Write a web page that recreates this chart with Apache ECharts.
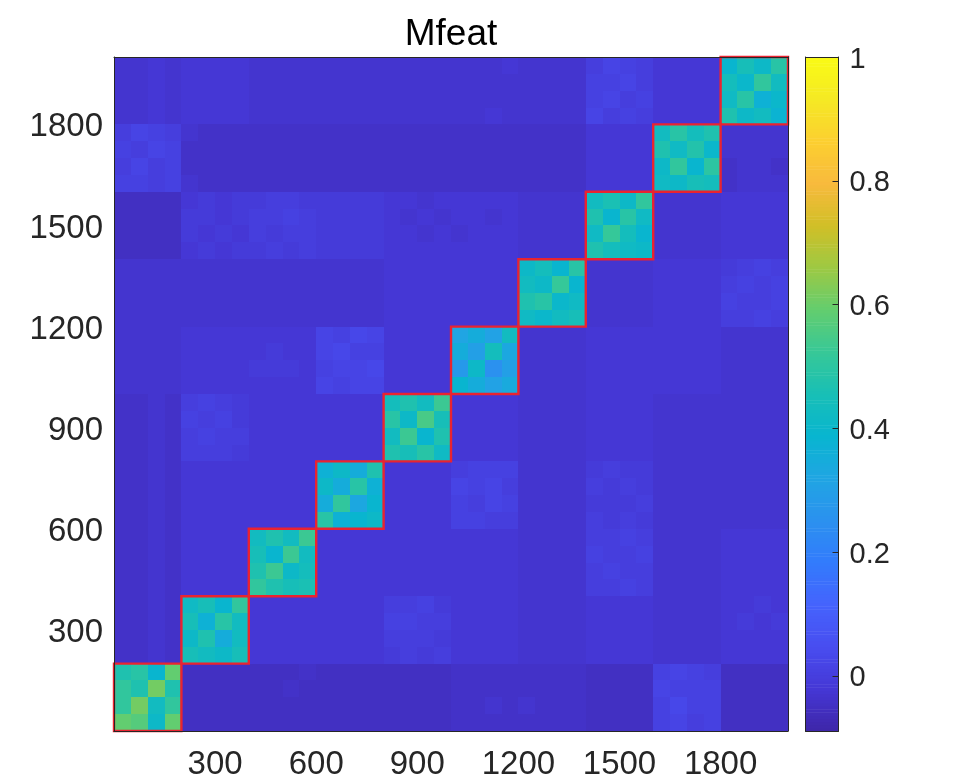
<!DOCTYPE html>
<html>
<head>
<meta charset="utf-8">
<script src="https://cdn.jsdelivr.net/npm/echarts@6/dist/echarts.min.js"></script>
<style>
  html, body { margin: 0; padding: 0; background: #fff; }
  #chart { width: 955px; height: 784px; }
</style>
</head>
<body>
<div id="chart"></div>
<script>
// matrix, in hundredths, one row per 50 samples, top row first
var row1950 = [-3,-3,-2,-3,-2,-2,-2,-2,-3,-3,-3,-3,-3,-3,-3,-3,-3,-3,-3,-3,-3,-3,-3,-2,-3,-3,-3,-3,0,2,1,0,-2,-2,-2,-2,39,45,41,49];
var row1900 = [-3,-3,-2,-3,-2,-2,-2,-2,-3,-3,-3,-3,-3,-3,-3,-3,-3,-3,-3,-3,-3,-3,-3,-3,-3,-3,-3,-3,1,1,2,0,-2,-2,-2,-2,44,40,51,43];
var row1850 = [-3,-3,-2,-3,-2,-2,-2,-2,-3,-3,-3,-3,-3,-3,-3,-3,-3,-3,-3,-3,-3,-3,-3,-3,-3,-3,-3,-3,1,2,0,1,-2,-2,-2,-2,42,49,37,40];
var row1800 = [-3,-3,-2,-3,-2,-2,-2,-2,-3,-3,-3,-3,-3,-3,-3,-3,-3,-3,-3,-3,-3,-3,-2,-3,-3,-3,-3,-3,2,0,1,0,-2,-2,-2,-2,47,41,43,38];
var row1750 = [0,2,1,0,-3,-4,-4,-4,-4,-4,-4,-4,-4,-4,-4,-4,-4,-4,-4,-4,-4,-4,-4,-4,-4,-4,-4,-4,-2,-2,-2,-2,43,49,44,47,-3,-3,-3,-3];
var row1700 = [1,0,2,1,-4,-4,-4,-4,-4,-4,-4,-4,-4,-4,-4,-4,-4,-4,-4,-4,-4,-4,-4,-4,-4,-4,-4,-4,-2,-2,-2,-2,47,42,48,40,-3,-3,-3,-3];
var row1650 = [0,2,0,1,-4,-4,-4,-4,-4,-4,-4,-4,-4,-4,-4,-4,-4,-4,-4,-4,-4,-4,-4,-4,-4,-4,-4,-4,-2,-2,-2,-2,41,51,39,50,-4,-3,-3,-4];
var row1600 = [1,1,0,1,-3,-4,-4,-4,-4,-4,-4,-4,-4,-4,-4,-4,-4,-4,-4,-4,-4,-4,-4,-4,-4,-4,-4,-4,-2,-2,-2,-2,42,41,45,44,-4,-3,-3,-3];
var row1550 = [-5,-5,-5,-5,-2,-1,-2,-1,-1,0,0,-1,-1,-1,-1,-1,-2,-2,-3,-2,-2,-2,-2,-2,-3,-3,-3,-3,43,46,41,51,-3,-3,-3,-3,-2,-2,-2,-2];
var row1500 = [-5,-5,-5,-5,-1,-1,-2,-1,0,0,1,0,-1,-1,-1,-1,-2,-3,-2,-3,-2,-2,-3,-2,-3,-3,-3,-3,47,39,49,42,-3,-3,-3,-3,-2,-2,-2,-2];
var row1450 = [-5,-5,-5,-5,-1,-2,-1,-2,0,-1,0,0,-1,-1,-1,-1,-2,-2,-3,-2,-3,-2,-2,-2,-3,-3,-3,-3,42,52,44,39,-3,-3,-3,-3,-2,-2,-2,-2];
var row1400 = [-5,-5,-5,-5,-2,-1,-2,-1,-1,0,-1,0,-1,-1,-1,-1,-2,-2,-2,-2,-2,-2,-2,-2,-3,-3,-3,-3,47,44,42,41,-3,-3,-3,-3,-2,-2,-2,-2];
var row1350 = [-3,-3,-3,-3,-3,-3,-3,-3,-3,-3,-3,-3,-3,-3,-3,-3,-2,-2,-2,-2,-2,-2,-2,-2,41,44,39,49,-3,-3,-3,-3,-2,-2,-2,-2,-1,0,1,0];
var row1300 = [-3,-3,-3,-3,-3,-3,-3,-3,-3,-3,-3,-3,-3,-3,-3,-3,-2,-2,-2,-2,-2,-2,-2,-2,43,41,52,39,-3,-3,-3,-3,-2,-2,-2,-2,0,1,0,1];
var row1250 = [-3,-3,-3,-3,-3,-3,-3,-3,-3,-3,-3,-3,-3,-3,-3,-3,-2,-2,-2,-2,-2,-2,-2,-2,47,49,40,42,-3,-3,-3,-3,-2,-2,-2,-2,1,0,0,1];
var row1200 = [-3,-3,-3,-3,-3,-3,-3,-3,-3,-3,-3,-3,-3,-3,-3,-3,-2,-2,-2,-2,-2,-2,-2,-2,42,40,43,45,-3,-3,-3,-3,-2,-2,-2,-2,0,0,1,0];
var row1150 = [-3,-3,-3,-3,-2,-2,-2,-2,-2,-2,-2,-2,2,1,3,2,-2,-2,-2,-2,32,35,31,43,-3,-3,-3,-3,-2,-2,-2,-2,-2,-2,-2,-2,-3,-3,-3,-3];
var row1100 = [-3,-3,-3,-3,-2,-2,-2,-2,-2,-1,-2,-2,2,3,1,1,-2,-2,-2,-2,35,30,44,33,-3,-3,-3,-3,-2,-2,-2,-2,-2,-2,-2,-2,-3,-3,-3,-3];
var row1050 = [-3,-3,-3,-3,-2,-2,-2,-2,-1,-1,-1,-2,1,2,2,3,-2,-2,-2,-2,28,41,25,30,-3,-3,-3,-3,-2,-2,-2,-2,-2,-2,-2,-2,-3,-3,-3,-3];
var row1000 = [-3,-3,-3,-3,-2,-2,-2,-2,-2,-2,-2,-2,2,1,2,2,-2,-2,-2,-2,39,35,31,34,-3,-3,-3,-3,-2,-2,-2,-2,-2,-2,-2,-2,-3,-3,-3,-3];
var row950 = [-4,-4,-3,-4,0,1,0,-1,-2,-2,-2,-2,-2,-2,-2,-2,44,47,43,53,-2,-2,-2,-2,-3,-3,-3,-3,-2,-2,-2,-2,-3,-3,-3,-3,-3,-3,-3,-3];
var row900 = [-4,-4,-3,-4,1,0,1,-1,-2,-2,-2,-2,-2,-2,-2,-2,49,41,55,45,-2,-2,-2,-2,-3,-3,-3,-3,-2,-2,-2,-2,-3,-3,-3,-3,-3,-3,-3,-3];
var row850 = [-4,-4,-3,-4,0,1,0,0,-2,-2,-2,-2,-2,-2,-2,-2,43,53,39,47,-2,-2,-2,-2,-3,-3,-3,-3,-2,-2,-2,-2,-3,-3,-3,-3,-3,-3,-3,-3];
var row800 = [-4,-4,-3,-4,0,0,0,-1,-2,-2,-2,-2,-2,-2,-2,-2,47,45,49,42,-2,-2,-2,-2,-3,-3,-3,-3,-2,-2,-2,-2,-3,-3,-3,-3,-3,-3,-3,-3];
var row750 = [-4,-4,-3,-4,-2,-2,-2,-2,-2,-2,-2,-2,37,41,35,47,-2,-2,-2,-2,0,1,1,1,-3,-3,-3,-3,-1,0,-1,-1,-3,-3,-3,-3,-3,-3,-3,-3];
var row700 = [-4,-4,-3,-4,-2,-2,-2,-2,-2,-2,-2,-2,41,35,49,37,-2,-2,-2,-2,2,1,2,0,-3,-3,-3,-3,0,-1,0,-1,-3,-3,-3,-3,-3,-3,-3,-3];
var row650 = [-4,-4,-3,-4,-2,-2,-2,-2,-2,-2,-2,-2,35,51,33,39,-2,-2,-2,-2,1,0,2,1,-3,-3,-3,-3,-1,-1,-1,0,-3,-3,-3,-3,-3,-3,-3,-3];
var row600 = [-4,-4,-3,-4,-2,-2,-2,-2,-2,-2,-2,-2,49,37,39,41,-2,-2,-2,-2,1,1,0,0,-3,-3,-3,-3,0,-1,0,-1,-3,-3,-3,-3,-3,-3,-3,-3];
var row550 = [-4,-4,-3,-4,-2,-2,-2,-2,43,47,43,53,-2,-2,-2,-2,-2,-2,-2,-2,-2,-2,-2,-2,-3,-3,-3,-3,0,0,1,0,-3,-3,-3,-3,-2,-2,-2,-2];
var row500 = [-4,-4,-3,-4,-2,-2,-2,-2,45,39,53,43,-2,-2,-2,-2,-2,-2,-2,-2,-2,-2,-2,-2,-3,-3,-3,-3,1,0,0,1,-3,-3,-3,-3,-2,-2,-2,-2];
var row450 = [-4,-4,-3,-4,-2,-2,-2,-2,47,53,41,44,-2,-2,-2,-2,-2,-2,-2,-2,-2,-2,-2,-2,-3,-3,-3,-3,0,1,0,0,-3,-3,-3,-3,-2,-2,-2,-2];
var row400 = [-4,-4,-3,-4,-2,-2,-2,-2,51,47,45,46,-2,-2,-2,-2,-2,-2,-2,-2,-2,-2,-2,-2,-3,-3,-3,-3,0,0,1,0,-3,-3,-3,-3,-2,-2,-2,-2];
var row350 = [-4,-4,-3,-4,42,45,39,51,-2,-2,-2,-2,-2,-2,-2,-2,0,0,1,-1,-2,-2,-2,-2,-3,-3,-3,-3,-2,-2,-2,-2,-3,-3,-3,-3,-2,-2,-1,-2];
var row300 = [-4,-4,-3,-4,45,37,49,43,-2,-2,-2,-2,-2,-2,-2,-2,1,1,0,0,-2,-2,-2,-2,-3,-3,-3,-3,-2,-2,-2,-2,-3,-3,-3,-3,-2,-1,-2,-1];
var row250 = [-4,-4,-3,-4,41,47,35,43,-2,-2,-2,-2,-2,-2,-2,-2,0,0,0,-1,-2,-2,-2,-2,-3,-3,-3,-3,-2,-2,-2,-2,-3,-3,-3,-3,-2,-2,-2,-2];
var row200 = [-4,-4,-3,-4,45,43,41,45,-2,-2,-2,-2,-2,-2,-2,-2,-1,0,-1,0,-2,-2,-2,-2,-3,-3,-3,-3,-2,-2,-2,-2,-3,-3,-3,-3,-2,-2,-2,-2];
var row150 = [47,49,39,59,-5,-5,-5,-5,-5,-5,-5,-4,-5,-5,-5,-5,-5,-5,-5,-5,-4,-4,-4,-4,-4,-4,-4,-4,-5,-5,-5,-5,1,2,1,0,-5,-5,-5,-5];
var row100 = [51,47,61,47,-5,-5,-5,-5,-5,-5,-4,-5,-5,-5,-5,-5,-5,-5,-5,-5,-4,-4,-4,-4,-4,-4,-4,-4,-5,-5,-5,-5,2,1,1,1,-5,-5,-5,-5];
var row50 = [51,61,43,51,-5,-5,-5,-5,-5,-5,-5,-5,-5,-5,-5,-5,-5,-5,-5,-5,-4,-4,-3,-4,-3,-4,-4,-4,-5,-5,-5,-5,1,3,1,1,-5,-5,-5,-5];
var row0 = [59,57,41,59,-5,-5,-5,-5,-5,-5,-5,-5,-5,-5,-5,-5,-5,-5,-5,-5,-4,-4,-4,-4,-4,-4,-4,-4,-5,-5,-5,-5,1,2,0,1,-5,-5,-5,-5];

var matrixRows = [
  row1950, row1900, row1850, row1800, row1750, row1700, row1650, row1600,
  row1550, row1500, row1450, row1400, row1350, row1300, row1250, row1200,
  row1150, row1100, row1050, row1000, row950, row900, row850, row800,
  row750, row700, row650, row600, row550, row500, row450, row400,
  row350, row300, row250, row200, row150, row100, row50, row0
];
var cellSize = 50;
var blockStarts = [0, 200, 400, 600, 800, 1000, 1200, 1400, 1600, 1800];
var blockSize = 200;
var colorbarTicks = [0, 0.2, 0.4, 0.6, 0.8, 1];
var colorMin = -0.089;
var colorMax = 1;
var parula = ["#3e26a8", "#4537d5", "#484df0", "#4563fd", "#327bfc", "#2b91ef", "#20a5e3", "#08b5d0",
  "#18bfb6", "#37c897", "#63cd6f", "#9dc943", "#d1bf27", "#f8ba3d", "#fccf30", "#f5e924", "#f9fb15"];

var matrixCells = [];
matrixRows.forEach(function (row, i) {
  row.forEach(function (v, j) {
    matrixCells.push([j * cellSize, (matrixRows.length - 1 - i) * cellSize, v / 100]);
  });
});

// colour bar strip, [from, to, value]
var barCells = [];
var barSteps = 216;
for (var k = 0; k < barSteps; k++) {
  var lo = colorMin + (colorMax - colorMin) * k / barSteps;
  var hi = colorMin + (colorMax - colorMin) * (k + 1) / barSteps;
  barCells.push([lo, hi, (lo + hi) / 2]);
}

var chart = echarts.init(document.getElementById("chart"));
var font = "Liberation Sans";
var dark = "#262626";
var frameLine = { show: true, onZero: false, lineStyle: { color: dark, width: 1 } };

function matrixCell(params, api) {
  var x = api.value(0), y = api.value(1);
  var a = api.coord([x, y + cellSize]);
  var b = api.coord([x + cellSize, y]);
  var left = Math.round(a[0]), top = Math.round(a[1]);
  return {
    type: "rect",
    shape: { x: left, y: top, width: Math.round(b[0]) - left, height: Math.round(b[1]) - top },
    style: { fill: api.visual("color") }
  };
}

function barCell(params, api) {
  var a = api.coord([0, api.value(1)]);
  var b = api.coord([1, api.value(0)]);
  return {
    type: "rect",
    shape: { x: a[0], y: a[1], width: b[0] - a[0], height: b[1] - a[1] + 0.5 },
    style: { fill: api.visual("color") }
  };
}

function blockBox(params, api) {
  var s = api.value(0);
  var a = api.coord([s, s + blockSize]);
  var b = api.coord([s + blockSize, s]);
  return {
    type: "rect",
    shape: { x: a[0], y: a[1], width: b[0] - a[0], height: b[1] - a[1] },
    style: { fill: "none", stroke: "#ea2330", lineWidth: 2.4 }
  };
}

function plainLabel(v) {
  return String(v);
}

var option = {
  animation: false,
  backgroundColor: "#fff",
  title: {
    text: "Mfeat",
    left: 446,
    top: 11,
    textAlign: "center",
    textStyle: { fontFamily: font, fontSize: 37, fontWeight: "normal", color: "#000" }
  },
  grid: [
    { left: 114, top: 57, width: 674, height: 674 },
    { left: 805.5, top: 57, width: 33, height: 674 }
  ],
  xAxis: [
    {
      type: "value", gridIndex: 0, min: 0, max: 2000, interval: 300, position: "bottom", z: 10,
      axisLine: frameLine, splitLine: { show: false },
      axisTick: { show: false },
      axisLabel: { fontFamily: font, fontSize: 33, color: dark, margin: 17, showMinLabel: false, showMaxLabel: false, formatter: plainLabel }
    },
    { type: "value", gridIndex: 0, min: 0, max: 2000, position: "top", z: 10, axisLine: frameLine, axisTick: { show: false }, axisLabel: { show: false }, splitLine: { show: false } },
    { type: "value", gridIndex: 1, min: 0, max: 1, position: "bottom", z: 10, axisLine: frameLine, axisTick: { show: false }, axisLabel: { show: false }, splitLine: { show: false } },
    { type: "value", gridIndex: 1, min: 0, max: 1, position: "top", z: 10, axisLine: frameLine, axisTick: { show: false }, axisLabel: { show: false }, splitLine: { show: false } }
  ],
  yAxis: [
    {
      type: "value", gridIndex: 0, min: 0, max: 2000, interval: 300, position: "left", z: 10,
      axisLine: frameLine, splitLine: { show: false },
      axisTick: { show: false },
      axisLabel: { fontFamily: font, fontSize: 33, color: dark, margin: 11, verticalAlign: "top", lineHeight: 6, showMinLabel: false, showMaxLabel: false, formatter: plainLabel }
    },
    { type: "value", gridIndex: 0, min: 0, max: 2000, position: "right", z: 10, axisLine: frameLine, axisTick: { show: false }, axisLabel: { show: false }, splitLine: { show: false } },
    {
      type: "value", gridIndex: 1, min: colorMin, max: colorMax, position: "right", z: 10,
      axisLine: frameLine, splitLine: { show: false },
      axisTick: { inside: true, length: 6, lineStyle: { color: dark }, customValues: colorbarTicks },
      axisLabel: { fontFamily: font, fontSize: 29, color: dark, margin: 11, verticalAlign: "top", lineHeight: 5, customValues: colorbarTicks }
    },
    { type: "value", gridIndex: 1, min: colorMin, max: colorMax, position: "left", z: 10, axisLine: frameLine, axisTick: { show: false }, axisLabel: { show: false }, splitLine: { show: false } }
  ],
  visualMap: {
    show: false,
    type: "continuous",
    min: colorMin,
    max: colorMax,
    dimension: 2,
    seriesIndex: [0, 2],
    inRange: { color: parula }
  },
  series: [
    { type: "custom", xAxisIndex: 0, yAxisIndex: 0, data: matrixCells, renderItem: matrixCell, progressive: 0, z: 2 },
    { type: "custom", xAxisIndex: 0, yAxisIndex: 0, data: blockStarts.map(function (s) { return [s]; }), renderItem: blockBox, z: 5 },
    { type: "custom", xAxisIndex: 2, yAxisIndex: 2, data: barCells, renderItem: barCell, progressive: 0, z: 2 }
  ]
};

chart.setOption(option);
</script>
</body>
</html>
